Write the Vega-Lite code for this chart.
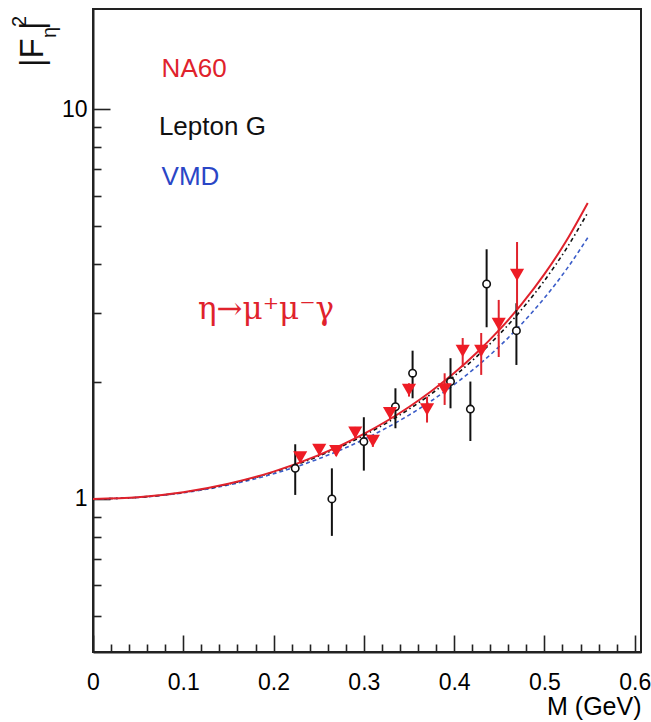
{
  "$schema": "https://vega.github.io/schema/vega-lite/v6.json",
  "width": 548,
  "height": 643,
  "autosize": {"type": "none"},
  "padding": {"left": 93, "top": 9, "right": 10, "bottom": 70},
  "background": "white",
  "config": {
    "view": {"stroke": "#222", "strokeWidth": 2},
    "axis": {
      "grid": false,
      "labelFont": "Liberation Sans",
      "labelColor": "black",
      "labelFontSize": 23,
      "labelFlush": false,
      "labelOverlap": false,
      "titleFont": "Liberation Sans",
      "titleFontWeight": "normal",
      "titleColor": "black",
      "domainColor": "#222",
      "domainWidth": 2,
      "tickColor": "#222",
      "tickWidth": 1.6
    }
  },
  "datasets": {
    "curves": [
      {"m": 0, "f": 1, "model": "NA60"},
      {"m": 0.05, "f": 1.0098, "model": "NA60"},
      {"m": 0.1, "f": 1.04, "model": "NA60"},
      {"m": 0.15, "f": 1.0934, "model": "NA60"},
      {"m": 0.2, "f": 1.1753, "model": "NA60"},
      {"m": 0.25, "f": 1.295, "model": "NA60"},
      {"m": 0.3, "f": 1.4678, "model": "NA60"},
      {"m": 0.35, "f": 1.7206, "model": "NA60"},
      {"m": 0.375, "f": 1.891, "model": "NA60"},
      {"m": 0.4, "f": 2.1028, "model": "NA60"},
      {"m": 0.425, "f": 2.37, "model": "NA60"},
      {"m": 0.45, "f": 2.7127, "model": "NA60"},
      {"m": 0.475, "f": 3.163, "model": "NA60"},
      {"m": 0.5, "f": 3.7704, "model": "NA60"},
      {"m": 0.525, "f": 4.619, "model": "NA60"},
      {"m": 0.548, "f": 5.74, "model": "NA60"},
      {"m": 0, "f": 1, "model": "Lepton G"},
      {"m": 0.05, "f": 1.0096, "model": "Lepton G"},
      {"m": 0.1, "f": 1.0391, "model": "Lepton G"},
      {"m": 0.15, "f": 1.0913, "model": "Lepton G"},
      {"m": 0.2, "f": 1.1713, "model": "Lepton G"},
      {"m": 0.25, "f": 1.2877, "model": "Lepton G"},
      {"m": 0.3, "f": 1.4551, "model": "Lepton G"},
      {"m": 0.35, "f": 1.6987, "model": "Lepton G"},
      {"m": 0.375, "f": 1.862, "model": "Lepton G"},
      {"m": 0.4, "f": 2.0643, "model": "Lepton G"},
      {"m": 0.425, "f": 2.318, "model": "Lepton G"},
      {"m": 0.45, "f": 2.6418, "model": "Lepton G"},
      {"m": 0.475, "f": 3.064, "model": "Lepton G"},
      {"m": 0.5, "f": 3.6281, "model": "Lepton G"},
      {"m": 0.525, "f": 4.408, "model": "Lepton G"},
      {"m": 0.548, "f": 5.423, "model": "Lepton G"},
      {"m": 0, "f": 1, "model": "VMD"},
      {"m": 0.05, "f": 1.009, "model": "VMD"},
      {"m": 0.1, "f": 1.0368, "model": "VMD"},
      {"m": 0.15, "f": 1.0857, "model": "VMD"},
      {"m": 0.2, "f": 1.1602, "model": "VMD"},
      {"m": 0.25, "f": 1.2678, "model": "VMD"},
      {"m": 0.3, "f": 1.421, "model": "VMD"},
      {"m": 0.35, "f": 1.6406, "model": "VMD"},
      {"m": 0.375, "f": 1.786, "model": "VMD"},
      {"m": 0.4, "f": 1.9638, "model": "VMD"},
      {"m": 0.425, "f": 2.184, "model": "VMD"},
      {"m": 0.45, "f": 2.4604, "model": "VMD"},
      {"m": 0.475, "f": 2.814, "model": "VMD"},
      {"m": 0.5, "f": 3.2759, "model": "VMD"},
      {"m": 0.525, "f": 3.896, "model": "VMD"},
      {"m": 0.548, "f": 4.676, "model": "VMD"}
    ],
    "leptonG": [
      {"m": 0.224, "f": 1.198, "lo": 1.024, "hi": 1.381},
      {"m": 0.2646, "f": 1.0, "lo": 0.804, "hi": 1.198},
      {"m": 0.3, "f": 1.403, "lo": 1.182, "hi": 1.62},
      {"m": 0.335, "f": 1.724, "lo": 1.518, "hi": 1.922},
      {"m": 0.354, "f": 2.101, "lo": 1.812, "hi": 2.4},
      {"m": 0.396, "f": 2.0, "lo": 1.708, "hi": 2.296},
      {"m": 0.418, "f": 1.7, "lo": 1.408, "hi": 2.0},
      {"m": 0.436, "f": 3.558, "lo": 2.756, "hi": 4.368},
      {"m": 0.469, "f": 2.701, "lo": 2.206, "hi": 3.176}
    ],
    "na60": [
      {"m": 0.2295, "f": 1.279, "lo": 1.24, "hi": 1.32},
      {"m": 0.2506, "f": 1.336, "lo": 1.3, "hi": 1.37},
      {"m": 0.2694, "f": 1.327, "lo": 1.29, "hi": 1.36},
      {"m": 0.2905, "f": 1.479, "lo": 1.43, "hi": 1.53},
      {"m": 0.31, "f": 1.408, "lo": 1.36, "hi": 1.45},
      {"m": 0.329, "f": 1.659, "lo": 1.6, "hi": 1.72},
      {"m": 0.35, "f": 1.903, "lo": 1.83, "hi": 1.98},
      {"m": 0.37, "f": 1.698, "lo": 1.57, "hi": 1.83},
      {"m": 0.3895, "f": 1.911, "lo": 1.742, "hi": 2.1},
      {"m": 0.4095, "f": 2.396, "lo": 2.179, "hi": 2.586},
      {"m": 0.43, "f": 2.396, "lo": 2.08, "hi": 2.664},
      {"m": 0.4494, "f": 2.81, "lo": 2.312, "hi": 3.239},
      {"m": 0.4697, "f": 3.753, "lo": 3.05, "hi": 4.559}
    ],
    "legendText": [
      {"m": 0.076, "f": 12.1, "label": "NA60"},
      {"m": 0.073, "f": 8.58, "label": "Lepton G"},
      {"m": 0.076, "f": 6.385, "label": "VMD"}
    ]
  },
  "layer": [
    {
      "data": {"name": "curves"},
      "transform": [{"filter": {"field": "model", "equal": "VMD"}}],
      "mark": {"type": "line", "interpolate": "monotone", "color": "#3a5cc8", "strokeWidth": 1.6, "strokeDash": [4, 3]},
      "encoding": {
        "x": {"field": "m", "type": "quantitative", "scale": {"domain": [0, 0.607], "nice": false, "zero": false},
          "axis": {"orient": "bottom", "values": [0, 0.1, 0.2, 0.3, 0.4, 0.5, 0.6], "format": "~g", "tickSize": -17, "labelPadding": 36, "title": "M (GeV)", "titleFontSize": 25, "titleAnchor": "end", "titlePadding": 0}},
        "y": {"field": "f", "type": "quantitative", "scale": {"type": "log", "domain": [0.405, 18.05], "nice": false},
          "axis": {"orient": "left", "values": [1, 10], "format": "~g", "tickSize": -17, "labelPadding": 23, "title": null}}
      }
    },
    {
      "data": {"name": "curves"},
      "transform": [{"filter": {"field": "model", "equal": "Lepton G"}}],
      "mark": {"type": "line", "interpolate": "monotone", "color": "#111", "strokeWidth": 1.6, "strokeDash": [1.5, 3, 4, 3]},
      "encoding": {
        "x": {"field": "m", "type": "quantitative",
          "axis": {"orient": "bottom", "values": [0.02, 0.04, 0.06, 0.08, 0.12, 0.14, 0.16, 0.18, 0.22, 0.24, 0.26, 0.28, 0.32, 0.34, 0.36, 0.38, 0.42, 0.44, 0.46, 0.48, 0.52, 0.54, 0.56, 0.58], "labels": false, "domain": false, "tickSize": -8, "title": null}},
        "y": {"field": "f", "type": "quantitative",
          "axis": {"orient": "left", "values": [0.5, 0.6, 0.7, 0.8, 0.9, 2, 3, 4, 5, 6, 7, 8, 9], "labels": false, "domain": false, "tickSize": -8, "title": null}}
      }
    },
    {
      "data": {"name": "curves"},
      "transform": [{"filter": {"field": "model", "equal": "NA60"}}],
      "mark": {"type": "line", "interpolate": "monotone", "color": "#e0222c", "strokeWidth": 2},
      "encoding": {
        "x": {"field": "m", "type": "quantitative", "axis": null},
        "y": {"field": "f", "type": "quantitative", "axis": null}
      }
    },
    {
      "data": {"name": "leptonG"},
      "mark": {"type": "rule", "color": "#111", "strokeWidth": 2},
      "encoding": {
        "x": {"field": "m", "type": "quantitative", "axis": null},
        "y": {"field": "lo", "type": "quantitative", "axis": null},
        "y2": {"field": "hi"}
      }
    },
    {
      "data": {"name": "leptonG"},
      "mark": {"type": "point", "shape": "circle", "filled": false, "fill": "white", "fillOpacity": 1, "stroke": "#111", "strokeWidth": 1.6, "size": 55, "opacity": 1},
      "encoding": {
        "x": {"field": "m", "type": "quantitative", "axis": null},
        "y": {"field": "f", "type": "quantitative", "axis": null}
      }
    },
    {
      "data": {"name": "na60"},
      "mark": {"type": "rule", "color": "#e0222c", "strokeWidth": 2},
      "encoding": {
        "x": {"field": "m", "type": "quantitative", "axis": null},
        "y": {"field": "lo", "type": "quantitative", "axis": null},
        "y2": {"field": "hi"}
      }
    },
    {
      "data": {"name": "na60"},
      "mark": {"type": "point", "shape": "triangle-down", "filled": true, "color": "#ee1c25", "size": 200, "opacity": 1},
      "encoding": {
        "x": {"field": "m", "type": "quantitative", "axis": null},
        "y": {"field": "f", "type": "quantitative", "axis": null}
      }
    },
    {
      "data": {"name": "legendText"},
      "mark": {"type": "text", "align": "left", "baseline": "alphabetic", "font": "Liberation Sans", "fontSize": 26},
      "encoding": {
        "x": {"field": "m", "type": "quantitative", "axis": null},
        "y": {"field": "f", "type": "quantitative", "axis": null},
        "text": {"field": "label"},
        "color": {"field": "label", "type": "nominal", "scale": {"domain": ["NA60", "Lepton G", "VMD"], "range": ["#e0222c", "#111111", "#2a46c6"]}, "legend": null}
      }
    },
    {
      "data": {"values": [{"m": 0.1163, "f": 2.893, "label": "η→μ⁺μ⁻γ"}]},
      "mark": {"type": "text", "align": "left", "baseline": "alphabetic", "font": "DejaVu Serif", "fontSize": 31, "color": "#e0222c"},
      "encoding": {
        "x": {"field": "m", "type": "quantitative", "axis": null},
        "y": {"field": "f", "type": "quantitative", "axis": null},
        "text": {"field": "label"}
      }
    },
    {
      "data": {"values": [{"m": -0.0554, "f": 12.81, "label": "|F"}, {"m": -0.0554, "f": 15.94, "label": "|"}]},
      "mark": {"type": "text", "align": "left", "baseline": "alphabetic", "angle": 270, "font": "Liberation Sans", "fontSize": 33, "color": "#111"},
      "encoding": {
        "x": {"field": "m", "type": "quantitative", "axis": null},
        "y": {"field": "f", "type": "quantitative", "axis": null},
        "text": {"field": "label"}
      }
    },
    {
      "data": {"values": [{"m": -0.041, "f": 15.21, "label": "η"}, {"m": -0.0742, "f": 16.23, "label": "2"}]},
      "mark": {"type": "text", "align": "left", "baseline": "alphabetic", "angle": 270, "font": "Liberation Sans", "fontSize": 20, "color": "#111"},
      "encoding": {
        "x": {"field": "m", "type": "quantitative", "axis": null},
        "y": {"field": "f", "type": "quantitative", "axis": null},
        "text": {"field": "label"}
      }
    }
  ],
  "resolve": {"axis": {"x": "independent", "y": "independent"}}
}
